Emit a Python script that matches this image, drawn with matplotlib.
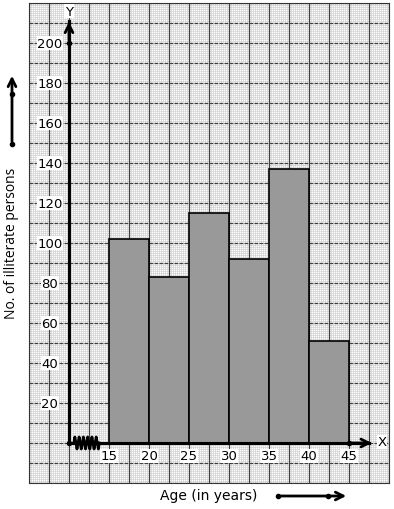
import numpy as np
import matplotlib
matplotlib.use('Agg')
import matplotlib.pyplot as plt

# age class edges and number of illiterate persons
age_edges = [15, 20, 25, 30, 35, 40, 45]
persons = [102, 83, 115, 92, 137, 51]
y_ticks = [20, 40, 60, 80, 100, 120, 140, 160, 180, 200]
x_ticks = [15, 20, 25, 30, 35, 40, 45]

fig = plt.figure(figsize=(3.94, 5.10), dpi=100)
ax = fig.add_axes([29 / 394, 26 / 510, 360 / 394, 480 / 510])
ax.set_xlim(5, 50)
ax.set_ylim(-20, 220)

# graph paper
for xv in np.arange(5, 50.01, 0.25):
  ax.axvline(xv, color='#d2d2d2', lw=0.5, zorder=0)
for yv in np.arange(-20, 220.01, 1):
  ax.axhline(yv, color='#d2d2d2', lw=0.5, zorder=0)
for xv in np.arange(5, 50.01, 2.5):
  ax.axvline(xv, color='#404040', lw=0.9, zorder=0.5)
for yv in np.arange(-20, 220.01, 10):
  ax.axhline(yv, color='#404040', lw=0.9, ls=(0, (3, 1)), zorder=0.5)

# histogram bars
lefts = age_edges[:-1]
ax.bar(lefts, persons, width=5, align='edge', color='#999999',
       edgecolor='black', linewidth=1.2, zorder=2)

# axes
ax.plot([10, 10], [0, 211], color='black', lw=2.2, zorder=3)
ax.plot([10, 47.5], [0, 0], color='black', lw=2.2, zorder=3)
ax.annotate('', xy=(10, 212), xytext=(10, 200),
            arrowprops=dict(arrowstyle='->', lw=2, color='black', mutation_scale=14), zorder=4)
ax.annotate('', xy=(48.2, 0), xytext=(45, 0),
            arrowprops=dict(arrowstyle='->', lw=2, color='black', mutation_scale=14), zorder=4)
ax.plot([10, 45], [0, 0], 'o', color='black', ms=3, zorder=4)
ax.plot([10], [200], 'o', color='black', ms=3, zorder=4)
ax.text(10, 216, 'Y', ha='center', va='center', fontsize=9.5, zorder=5,
        bbox=dict(facecolor='white', edgecolor='none', pad=0.5))
ax.text(49.1, 0.5, 'X', ha='center', va='center', fontsize=9.5, zorder=5,
        bbox=dict(facecolor='white', edgecolor='none', pad=0.5))

# kink on x axis
zx = np.linspace(10.6, 13.8, 25)
zy = np.array([0, 3, 0, -3] * 6 + [0])[:len(zx)]
ax.plot(zx, zy, color='black', lw=2, zorder=4)

# tick labels
for v in y_ticks:
  ax.text(7.6, v, str(v), ha='center', va='center', fontsize=9.5, zorder=5,
          bbox=dict(facecolor='white', edgecolor='none', pad=0.3))
for v in x_ticks:
  ax.text(v, -6.5, str(v), ha='center', va='center', fontsize=9.5, zorder=5,
          bbox=dict(facecolor='white', edgecolor='none', pad=0.3))

ax.set_xticks([])
ax.set_yticks([])
for s in ax.spines.values():
  s.set_color('#333333')
  s.set_linewidth(0.8)

# axis titles and direction arrows
fig.text(12 / 394, 1 - 243 / 510, 'No. of illiterate persons', rotation=90,
         ha='center', va='center', fontsize=10, family='Open Sans')
fig.text(209 / 394, 1 - 496 / 510, 'Age (in years)', ha='center', va='center',
         fontsize=10)
fig.add_artist(matplotlib.patches.FancyArrowPatch(
  (12 / 394, 1 - 145 / 510), (12 / 394, 1 - 74 / 510), transform=fig.transFigure,
  arrowstyle='->', mutation_scale=14, lw=2, color='black'))
fig.add_artist(plt.Line2D([12 / 394, 12 / 394], [1 - 145 / 510, 1 - 95 / 510],
                          marker='o', ms=3, ls='none', color='black',
                          transform=fig.transFigure))
fig.add_artist(matplotlib.patches.FancyArrowPatch(
  (278 / 394, 1 - 497 / 510), (349 / 394, 1 - 497 / 510), transform=fig.transFigure,
  arrowstyle='->', mutation_scale=14, lw=2, color='black'))
fig.add_artist(plt.Line2D([278 / 394, 328 / 394], [1 - 497 / 510, 1 - 497 / 510],
                          marker='o', ms=3, ls='none', color='black',
                          transform=fig.transFigure))

fig.savefig('out.png', dpi=100)
